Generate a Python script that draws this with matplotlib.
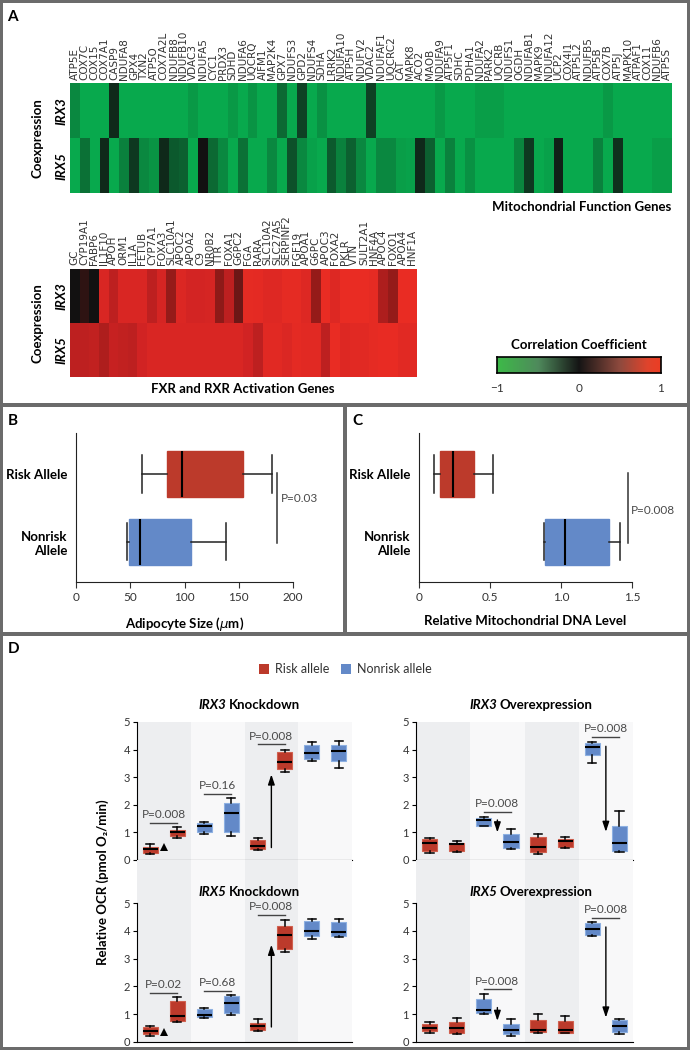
import numpy as np
import matplotlib.pyplot as plt
from matplotlib.colors import LinearSegmentedColormap
from matplotlib.patches import Rectangle

plt.rcParams['font.family'] = ['Lato', 'DejaVu Sans']

W, H = 690, 1050

# ---------------- panel A: coexpression heatmaps ----------------
mito_genes = ['ATP5E', 'COX7C', 'COX15', 'COX7A1', 'CASP9', 'NDUFA8', 'GPX4', 'TXN2',
              'ATP5O', 'COX7A2L', 'NDUFB8', 'NDUFB10', 'VDAC3', 'NDUFA5', 'CYC1', 'PRDX3',
              'SDHD', 'NDUFA6', 'UQCRQ', 'AIFM1', 'MAP2K4', 'GPX7', 'NDUFS3', 'GPD2',
              'NDUFS4', 'SDHA', 'LRRK2', 'NDUFA10', 'ATP5H', 'NDUFV2', 'VDAC2', 'NDUFAF1',
              'UQCRC2', 'CAT', 'MAPK8', 'ACO2', 'MAOB', 'NDUFA9', 'ATP5F1', 'SDHC', 'PDHA1',
              'NDUFA2', 'PARK2', 'UQCRB', 'NDUFS1', 'OGDH', 'NDUFAB1', 'MAPK9', 'NDUFA12',
              'UCP2', 'COX4I1', 'ATP5L2', 'NDUFB5', 'ATP5B', 'COX7B', 'ATP5J', 'MAPK10',
              'ATPAF1', 'COX11', 'NDUFB6', 'ATP5S']
mito_irx3 = [-0.75, -0.95, -0.95, -0.95, -0.15, -0.95, -0.95, -0.95, -0.95, -0.95,
             -0.95, -0.95, -0.85, -0.95, -0.95, -0.95, -0.85, -0.95, -0.82, -0.95,
             -0.95, -0.55, -0.95, -0.3, -0.95, -0.8, -0.95, -0.95, -0.95, -0.95,
             -0.3, -0.95, -0.95, -0.95, -0.95, -0.95, -0.95, -0.85, -0.95, -0.95,
             -0.95, -0.88, -0.88, -0.88, -0.95, -0.95, -0.95, -0.95, -0.95, -0.95,
             -0.95, -0.95, -0.95, -0.95, -0.85, -0.95, -0.95, -0.95, -0.95, -0.95, -0.95]
mito_irx5 = [-0.95, -0.6, -0.95, -0.15, -0.95, -0.7, -0.25, -0.75, -0.82, -0.15,
             -0.45, -0.5, -0.95, 0.0, -0.55, -0.75, -0.95, -0.6, -0.95, -0.95,
             -0.75, -0.95, -0.4, -0.75, -0.9, -0.95, -0.45, -0.7, -0.5, -0.75,
             -0.95, -0.75, -0.75, -0.88, -0.9, -0.15, -0.5, -0.95, -0.7, -0.95,
             -0.8, -0.95, -0.95, -0.95, -0.95, -0.72, -0.25, -0.95, -0.9, -0.1,
             -0.95, -0.95, -0.95, -0.7, -0.95, -0.2, -0.95, -0.95, -0.95, -0.88, -0.88]

fxr_genes = ['GC', 'CYP19A1', 'FABP6', 'IL1F10', 'APOH', 'ORM1', 'IL1A', 'FETUB', 'CYP7A1',
             'FOXA3', 'SLC10A1', 'APOC2', 'APOA2', 'C9', 'NR0B2', 'TTR', 'FOXA1', 'G6PC2',
             'FGA', 'RARA', 'SLC10A2', 'SLC27A5', 'SERPINF2', 'FGF19', 'APOA1', 'G6PC',
             'APOC3', 'FOXA2', 'PKLR', 'VTN', 'SULT2A1', 'HNF4A', 'APOC4', 'FOXO1',
             'APOA4', 'HNF1A']
fxr_irx3 = [0.0, 0.1, 0.0, 0.8, 0.62, 0.8, 0.8, 0.8, 0.62, 0.76, 0.45, 0.82,
            0.74, 0.74, 0.76, 0.42, 0.62, 0.3, 0.92, 0.9, 0.85, 0.85, 0.92, 0.92,
            0.84, 0.45, 0.96, 0.84, 0.96, 0.96, 0.96, 0.92, 0.55, 0.45, 0.96, 0.96]
fxr_irx5 = [0.62, 0.62, 0.64, 0.56, 0.66, 0.64, 0.62, 0.72, 0.8, 0.8, 0.8, 0.8,
            0.8, 0.8, 0.8, 0.8, 0.8, 0.8, 0.72, 0.62, 0.88, 0.88, 0.82, 0.9,
            0.88, 0.88, 0.62, 0.96, 0.84, 0.88, 0.88, 0.92, 0.94, 0.94, 0.88, 0.88]

# ---------------- panels B and C ----------------
allele_labels = ['Risk Allele', 'Nonrisk\nAllele']
size_lo = [61, 47]
size_q1 = [84, 49]
size_med = [98, 59]
size_q3 = [154, 106]
size_hi = [181, 138]

mtdna_lo = [0.106, 0.88]
mtdna_q1 = [0.15, 0.885]
mtdna_med = [0.24, 1.03]
mtdna_q3 = [0.39, 1.34]
mtdna_hi = [0.52, 1.415]

# ---------------- panel D: OCR boxes (8 boxes per panel) ----------------
kd3_lo = [0.2, 0.78, 0.93, 0.88, 0.36, 3.2, 3.59, 3.33]
kd3_q1 = [0.24, 0.87, 1.02, 1.02, 0.4, 3.3, 3.67, 3.58]
kd3_med = [0.39, 1.0, 1.23, 1.71, 0.52, 3.54, 3.89, 3.95]
kd3_q3 = [0.48, 1.1, 1.33, 2.05, 0.72, 3.92, 4.18, 4.16]
kd3_hi = [0.57, 1.18, 1.39, 2.23, 0.78, 3.98, 4.28, 4.3]

kd5_lo = [0.22, 0.73, 0.85, 0.96, 0.41, 3.24, 3.7, 3.77]
kd5_q1 = [0.28, 0.74, 0.9, 1.06, 0.42, 3.33, 3.8, 3.83]
kd5_med = [0.38, 0.94, 0.97, 1.4, 0.58, 3.85, 3.98, 3.96]
kd5_q3 = [0.54, 1.48, 1.18, 1.64, 0.7, 4.16, 4.35, 4.32]
kd5_hi = [0.58, 1.62, 1.24, 1.68, 0.82, 4.38, 4.41, 4.41]

oe3_lo = [0.24, 0.28, 1.22, 0.4, 0.22, 0.45, 3.52, 0.28]
oe3_q1 = [0.34, 0.34, 1.24, 0.45, 0.3, 0.48, 3.8, 0.33]
oe3_med = [0.63, 0.57, 1.45, 0.66, 0.48, 0.7, 4.1, 0.63]
oe3_q3 = [0.75, 0.63, 1.53, 0.94, 0.82, 0.77, 4.24, 1.25]
oe3_hi = [0.81, 0.69, 1.57, 1.14, 0.96, 0.84, 4.27, 1.77]

oe5_lo = [0.32, 0.3, 1.0, 0.2, 0.34, 0.32, 3.83, 0.28]
oe5_q1 = [0.38, 0.32, 1.04, 0.28, 0.36, 0.34, 3.84, 0.36]
oe5_med = [0.5, 0.5, 1.14, 0.44, 0.44, 0.42, 4.08, 0.56]
oe5_q3 = [0.66, 0.72, 1.56, 0.66, 0.78, 0.76, 4.28, 0.78]
oe5_hi = [0.72, 0.85, 1.71, 0.84, 1.02, 0.92, 4.32, 0.82]

box_alleles = ['risk', 'risk', 'nonrisk', 'nonrisk', 'risk', 'risk', 'nonrisk', 'nonrisk']

# p-value brackets: group index, label, height
kd3_p = [(0, 'P=0.008', 1.35), (1, 'P=0.16', 2.39), (2, 'P=0.008', 4.19)]
kd5_p = [(0, 'P=0.02', 1.77), (1, 'P=0.68', 1.83), (2, 'P=0.008', 4.58)]
oe3_p = [(1, 'P=0.008', 1.73), (3, 'P=0.008', 4.46)]
oe5_p = [(1, 'P=0.008', 1.89), (3, 'P=0.008', 4.47)]

# arrows: group, from, to ; heads: group, y
kd3_arrows = [(2, 0.45, 3.1)]
kd3_heads = [(0, 0.46)]
kd5_arrows = [(2, 0.54, 3.5)]
kd5_heads = [(0, 0.35)]
oe3_arrows = [(1, 1.45, 1.0), (3, 4.12, 1.02)]
oe5_arrows = [(1, 1.24, 0.76), (3, 4.14, 0.88)]

RED = '#BC3A2B'
BLUE = '#6389C8'
GRAY_TXT = '#4a4a4a'


def px(x0, y0, x1, y1):
    return [x0 / W, 1 - y1 / H, (x1 - x0) / W, (y1 - y0) / H]


fig = plt.figure(figsize=(W / 100, H / 100), dpi=100, facecolor='#6B6B6B')

for (x0, y0, x1, y1) in [(3, 3, 687, 403), (3, 407, 343, 632), (347, 407, 687, 632), (3, 636, 687, 1047)]:
    fig.patches.append(Rectangle((x0 / W, 1 - y1 / H), (x1 - x0) / W, (y1 - y0) / H,
                                 transform=fig.transFigure, facecolor='white', edgecolor='none',
                                 zorder=-10))

for lab, x, y in [('A', 12, 17), ('B', 13, 421), ('C', 357, 421), ('D', 14, 649)]:
    fig.text(x / W, 1 - y / H, lab, fontsize=11, fontweight='bold', ha='center', va='center')

# ---------- A ----------
heat_cmap = LinearSegmentedColormap.from_list(
    'gkr', [(0, '#08B150'), (0.5, '#111111'), (0.7, '#8A1A18'), (0.85, '#CF2323'), (1, '#EE2E24')])


def heatmap(rect, genes, row3, row5, pad):
    ax = fig.add_axes(px(*rect))
    ax.imshow(np.array([row3, row5]), cmap=heat_cmap, vmin=-1, vmax=1, aspect='auto',
              interpolation='nearest')
    ax.set_xticks(range(len(genes)))
    ax.set_xticklabels(genes, rotation=90, fontsize=7.5, color='#333333', family=['DejaVu Sans'])
    ax.xaxis.tick_top()
    ax.tick_params(axis='x', length=0, pad=pad)
    ax.set_yticks([])
    for s in ax.spines.values():
        s.set_visible(False)
    return ax


heatmap((70, 83, 672, 193), mito_genes, mito_irx3, mito_irx5, 2)
heatmap((70, 269, 417, 377), fxr_genes, fxr_irx3, fxr_irx5, 3)

for yc, y3, y5 in [(138, 111, 166), (323, 296, 350)]:
    fig.text(38 / W, 1 - yc / H, 'Coexpression', rotation=90, fontsize=9.5, fontweight='bold',
             ha='center', va='center')
    fig.text(61 / W, 1 - y3 / H, 'IRX3', rotation=90, fontsize=9.5, fontweight='bold',
             style='italic', ha='center', va='center')
    fig.text(61 / W, 1 - y5 / H, 'IRX5', rotation=90, fontsize=9.5, fontweight='bold',
             style='italic', ha='center', va='center')

fig.text(671 / W, 1 - 207 / H, 'Mitochondrial Function Genes', fontsize=9.5, fontweight='bold',
         ha='right', va='center')
fig.text(243 / W, 1 - 389 / H, 'FXR and RXR Activation Genes', fontsize=9.5, fontweight='bold',
         ha='center', va='center')

bar_cmap = LinearSegmentedColormap.from_list('bar', [(0, '#3DBA48'), (0.25, '#4F8A5C'),
                                                     (0.5, '#151515'), (0.75, '#8E4A3E'),
                                                     (0.92, '#E0442C'), (1, '#EC3D24')])
cax = fig.add_axes(px(497, 357, 661, 373))
cax.imshow(np.linspace(-1, 1, 256)[None, :], cmap=bar_cmap, aspect='auto', extent=(-1, 1, 0, 1))
cax.set_yticks([])
cax.set_xticks([-1, 0, 1])
cax.set_xticklabels(['\u22121', '0', '1'], fontsize=8.5, color='#333333')
cax.tick_params(axis='x', length=0, pad=7)
for s in cax.spines.values():
    s.set_linewidth(1.2)
fig.text(579 / W, 1 - 345 / H, 'Correlation Coefficient', fontsize=9.5, fontweight='bold',
         ha='center', va='center')


# ---------- B and C ----------
def allele_box(rect, lo, q1, med, q3, hi, xlim, xticks, xticklabels, xlabel, pline, ptext):
    ax = fig.add_axes(px(*rect))
    ax.patch.set_alpha(0)
    stats = [dict(whislo=lo[i], q1=q1[i], med=med[i], q3=q3[i], whishi=hi[i], fliers=[])
             for i in range(2)]
    res = ax.bxp(stats, positions=[0.725, 0.27], widths=0.31, capwidths=0.25,
                 orientation='horizontal', patch_artist=True, showfliers=False,
                 medianprops=dict(color='black', lw=1.5),
                 whiskerprops=dict(color='#222222', lw=1.1),
                 capprops=dict(color='#222222', lw=1.1))
    for b, c in zip(res['boxes'], [RED, BLUE]):
        b.set_facecolor(c)
        b.set_edgecolor(c)
    ax.set_xlim(*xlim)
    ax.set_ylim(0, 1)
    ax.set_xticks(xticks)
    ax.set_xticklabels(xticklabels, fontsize=8.5, color='#333333')
    ax.set_yticks([0.725, 0.27])
    ax.set_yticklabels(allele_labels, fontsize=9.5, fontweight='bold', ha='right')
    ax.tick_params(axis='y', length=0, pad=6)
    ax.tick_params(axis='x', length=4, color='#333333')
    ax.set_xlabel(xlabel, fontsize=9.5, fontweight='bold', labelpad=8)
    ax.spines[['top', 'right']].set_visible(False)
    for s in ('left', 'bottom'):
        ax.spines[s].set_color('#222222')
    ax.plot([pline, pline], [0.73, 0.26], color='#333333', lw=1.1, clip_on=False)
    ax.text(ptext[0], ptext[1], ptext[2], fontsize=8.5, color=GRAY_TXT, ha='left', va='center')
    return ax


allele_box((76, 433, 293, 582), size_lo, size_q1, size_med, size_q3, size_hi, (0, 200),
           [0, 50, 100, 150, 200], ['0', '50', '100', '150', '200'],
           'Adipocyte Size ($\\mu$m)', 185, (188.5, 0.56, 'P=0.03'))
allele_box((419, 433, 632, 582), mtdna_lo, mtdna_q1, mtdna_med, mtdna_q3, mtdna_hi, (0, 1.5),
           [0, 0.5, 1.0, 1.5], ['0', '0.5', '1.0', '1.5'],
           'Relative Mitochondrial DNA Level', 1.47, (1.495, 0.48, 'P=0.008'))

# ---------- D ----------
for x, c, lab in [(259, RED, 'Risk allele'), (341, BLUE, 'Nonrisk allele')]:
    fig.patches.append(Rectangle((x / W, 1 - 674 / H), 10 / W, 10 / H, transform=fig.transFigure,
                                 facecolor=c, edgecolor='none'))
    fig.text((x + 16) / W, 1 - 669 / H, lab, fontsize=9, color='#333333', ha='left', va='center')

fig.text(103 / W, 1 - 882 / H, 'Relative OCR (pmol O\u2082/min)', rotation=90, fontsize=9.5,
         fontweight='bold', ha='center', va='center')


def ocr_panel(rect, lo, q1, med, q3, hi, pvals, arrows, heads, ytop, gene, kind, tx, ty):
    ax = fig.add_axes(px(*rect))
    ax.set_xlim(-0.5, 3.5)
    ax.set_ylim(0, ytop)
    for g in range(4):
        ax.axvspan(g - 0.5, g + 0.5, color=['#EDEEF0', '#F8F8F9'][g % 2], lw=0, zorder=0)
    pos = [g + off for g in range(4) for off in (-0.25, 0.25)]
    stats = [dict(whislo=lo[i], q1=q1[i], med=med[i], q3=q3[i], whishi=hi[i], fliers=[])
             for i in range(8)]
    res = ax.bxp(stats, positions=pos, widths=0.28, capwidths=0.15, patch_artist=True,
                 showfliers=False, medianprops=dict(color='black', lw=1.5),
                 whiskerprops=dict(color='black', lw=1.1), capprops=dict(color='black', lw=1.1))
    for b, a in zip(res['boxes'], box_alleles):
        b.set_facecolor(RED if a == 'risk' else BLUE)
        b.set_edgecolor('#D0604F' if a == 'risk' else '#8DB0E2')
        b.set_linewidth(0.8)
    for g, lab, y in pvals:
        ax.plot([g - 0.25, g + 0.25], [y, y], color='#444444', lw=1)
        ax.text(g, y + 0.1, lab, fontsize=8.5, color=GRAY_TXT, ha='center', va='bottom')
    for g, y0, y1 in arrows:
        ax.annotate('', xy=(g, y1), xytext=(g, y0),
                    arrowprops=dict(arrowstyle='-|>,head_length=0.6,head_width=0.2', lw=1,
                                    color='black', mutation_scale=10, shrinkA=0, shrinkB=0))
    for g, y in heads:
        ax.plot(g, y, marker='^', ms=6, color='black', mew=0)
    ax.set_xticks([])
    ax.set_yticks(range(6))
    ax.tick_params(axis='y', length=3, labelsize=8, labelcolor='#333333', pad=2)
    ax.spines[['top', 'right']].set_visible(False)
    ax.spines['left'].set_bounds(0, 5)
    ax.text(tx, ty, gene, transform=ax.transAxes, fontsize=9.5, fontweight='bold', style='italic',
            ha='right', va='center')
    ax.text(tx + 0.012, ty, kind, transform=ax.transAxes, fontsize=9.5, fontweight='bold',
            ha='left', va='center')
    return ax


ocr_panel((137, 722, 352, 860), kd3_lo, kd3_q1, kd3_med, kd3_q3, kd3_hi, kd3_p, kd3_arrows,
          kd3_heads, 5, 'IRX3', 'Knockdown', 0.414, 1.123)
ocr_panel((137, 860, 352, 1042), kd5_lo, kd5_q1, kd5_med, kd5_q3, kd5_hi, kd5_p, kd5_arrows,
          kd5_heads, 6.55, 'IRX5', 'Knockdown', 0.414, 0.824)
ocr_panel((416, 722, 633, 860), oe3_lo, oe3_q1, oe3_med, oe3_q3, oe3_hi, oe3_p, oe3_arrows,
          [], 5, 'IRX3', 'Overexpression', 0.373, 1.123)
ocr_panel((416, 860, 633, 1042), oe5_lo, oe5_q1, oe5_med, oe5_q3, oe5_hi, oe5_p, oe5_arrows,
          [], 6.55, 'IRX5', 'Overexpression', 0.373, 0.824)

fig.savefig('out.png', dpi=100, facecolor=fig.get_facecolor())
